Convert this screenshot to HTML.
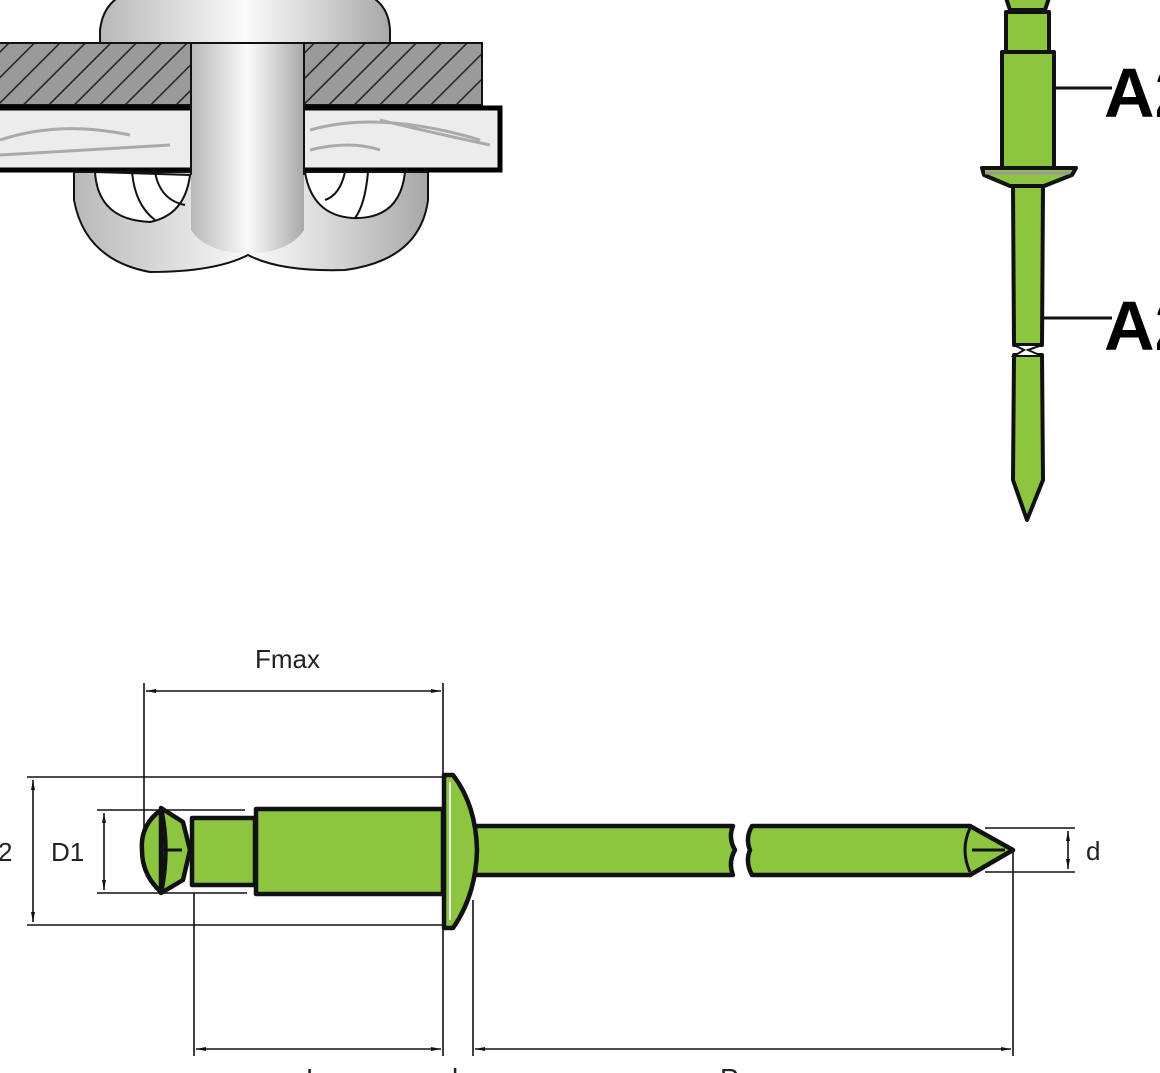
<!DOCTYPE html>
<html><head><meta charset="utf-8"><style>
html,body{margin:0;padding:0;background:#fff;width:1160px;height:1073px;overflow:hidden}
svg{display:block}
.t{font-family:"Liberation Sans",sans-serif;fill:#222}
.a2{font-family:"Liberation Sans Narrow","Liberation Sans",sans-serif;font-weight:bold;fill:#000}
</style></head><body>
<svg width="1160" height="1073" viewBox="0 0 1160 1073" xmlns="http://www.w3.org/2000/svg">
<defs>
<linearGradient id="met" x1="0" x2="1" y1="0" y2="0">
<stop offset="0" stop-color="#b8b8b8"/><stop offset="0.35" stop-color="#e6e6e6"/><stop offset="0.5" stop-color="#fafafa"/><stop offset="0.7" stop-color="#dcdcdc"/><stop offset="1" stop-color="#a8a8a8"/>
</linearGradient>
<pattern id="hatch" width="18" height="18" patternUnits="userSpaceOnUse" patternTransform="rotate(45)">
<rect width="18" height="18" fill="#9a9a9a"/><line x1="0" y1="0" x2="0" y2="18" stroke="#222" stroke-width="3"/>
</pattern>
<marker id="ar" viewBox="0 0 10 6" refX="10" refY="3" markerWidth="10" markerHeight="6" orient="auto-start-reverse" markerUnits="userSpaceOnUse">
<path d="M0,1 L10,3 L0,5 Z" fill="#111"/></marker>
</defs>

<!-- TOP LEFT -->
<path d="M100,44 L100,30 Q104,-5 140,-10 L350,-10 Q388,-5 390,30 L390,44 Z" fill="url(#met)" stroke="#111" stroke-width="2"/>
<rect x="-5" y="43" width="487" height="62" fill="url(#hatch)" stroke="#111" stroke-width="2"/>
<rect x="-5" y="108" width="505" height="62" fill="#ececec" stroke="#000" stroke-width="5"/>
<path d="M0,140 Q60,120 130,135 M0,155 Q80,150 170,145 M310,130 Q380,110 480,140 M310,150 Q350,140 380,150 M380,120 Q420,130 490,145" stroke="#aaa" stroke-width="3" fill="none"/>
<path d="M74,172 L74,200 Q85,260 150,272 Q215,272 248,255 Q280,272 345,270 Q420,260 428,200 L428,172 Z" fill="url(#met)" stroke="#111" stroke-width="2"/>
<path d="M95,172 Q98,220 150,222 Q185,215 190,175 Z" fill="#fff" stroke="#111" stroke-width="2"/>
<path d="M132,172 Q135,205 155,220 M155,172 Q160,200 185,205" stroke="#111" stroke-width="2" fill="none"/>
<path d="M305,172 Q312,215 352,218 Q400,220 405,172 Z" fill="#fff" stroke="#111" stroke-width="2"/>
<path d="M368,172 Q365,205 355,218 M345,172 Q340,195 325,200" stroke="#111" stroke-width="2" fill="none"/>
<path d="M191,44 L304,44 L304,230 Q290,252 248,254 Q205,252 191,230 Z" fill="url(#met)"/>
<line x1="191" y1="44" x2="191" y2="175" stroke="#111" stroke-width="2"/>
<line x1="304" y1="44" x2="304" y2="175" stroke="#111" stroke-width="2"/>

<!-- TOP RIGHT vertical rivet -->
<g stroke="#111" stroke-width="4" fill="#8cc63f" stroke-linejoin="round">
<path d="M1005,-5 L1010,10 L1045,10 L1050,-5 Z"/>
<rect x="1006" y="12" width="43" height="40"/>
<rect x="1002" y="52" width="52" height="116"/>
<path d="M982,168 L1076,168 L1072,175 L1044,186 L1010,186 L984,175 Z"/>
<path d="M1013,186 L1043,186 L1042,345 L1014,345 Z"/>
<path d="M1014,355 L1042,355 L1043,480 L1027,520 L1013,480 Z"/>
</g>
<line x1="985" y1="173" x2="1070" y2="173" stroke="#999" stroke-width="3"/>
<path d="M1014,345 L1042,345 L1028,350 L1042,356 L1014,356 L1024,350 Z" fill="#fff" stroke="#111" stroke-width="2"/>
<line x1="1054" y1="88" x2="1112" y2="88" stroke="#111" stroke-width="3"/>
<line x1="1043" y1="318" x2="1112" y2="318" stroke="#111" stroke-width="3"/>
<text class="a2" x="1104" y="117" font-size="70">A2</text>
<text class="a2" x="1104" y="350" font-size="70">A2</text>

<!-- BOTTOM drawing dimension lines -->
<g stroke="#111" stroke-width="1.6" fill="none">
<line x1="144" y1="683" x2="144" y2="860"/>
<line x1="443" y1="683" x2="443" y2="775"/>
<line x1="146" y1="691" x2="441" y2="691" marker-start="url(#ar)" marker-end="url(#ar)"/>
<line x1="27" y1="777" x2="443" y2="777"/>
<line x1="27" y1="925" x2="443" y2="925"/>
<line x1="33" y1="780" x2="33" y2="922" marker-start="url(#ar)" marker-end="url(#ar)"/>
<line x1="97" y1="810" x2="245" y2="810"/>
<line x1="97" y1="893" x2="247" y2="893"/>
<line x1="104" y1="813" x2="104" y2="890" marker-start="url(#ar)" marker-end="url(#ar)"/>
<line x1="194" y1="893" x2="194" y2="1056"/>
<line x1="443" y1="925" x2="443" y2="1056"/>
<line x1="473" y1="900" x2="473" y2="1056"/>
<line x1="1013" y1="850" x2="1013" y2="1056"/>
<line x1="196" y1="1049" x2="441" y2="1049" marker-start="url(#ar)" marker-end="url(#ar)"/>
<line x1="475" y1="1049" x2="1011" y2="1049" marker-start="url(#ar)" marker-end="url(#ar)"/>
<line x1="985" y1="828" x2="1075" y2="828"/>
<line x1="985" y1="872" x2="1075" y2="872"/>
<line x1="1068" y1="831" x2="1068" y2="869" marker-start="url(#ar)" marker-end="url(#ar)"/>
</g>

<!-- BOTTOM rivet -->
<g stroke="#111" stroke-width="4.5" fill="#8cc63f" stroke-linejoin="round">
<path d="M161,810 Q140,825 142,850 Q142,875 161,892 Z"/>
<path d="M161,808 L183,822 L190,850 L183,880 L161,893 Q170,850 161,808 Z"/>
<rect x="192" y="818" width="63" height="67"/>
<rect x="256" y="809" width="187" height="85"/>
<path d="M475,826 L733,826 Q728,838 735,850 Q728,862 733,875 L475,875 Z"/>
<path d="M752,826 L970,826 L1013,850 L970,875 L752,875 Q745,862 750,850 Q745,838 752,826 Z"/>
<path d="M444,775 L453,775 Q476,805 477,850 Q476,895 453,928 L444,928 Z"/>
</g>
<line x1="450" y1="782" x2="450" y2="920" stroke="#eee" stroke-width="2"/>
<path d="M161,850 L182,850" stroke="#111" stroke-width="3"/>
<path d="M970,828 Q960,850 970,872 M972,850 L1005,850" stroke="#111" stroke-width="3" fill="none"/>

<text class="t" x="255" y="668" font-size="26">Fmax</text>
<text class="t" x="-2" y="861" font-size="26">2</text>
<text class="t" x="51" y="861" font-size="26">D1</text>
<text class="t" x="1086" y="860" font-size="26">d</text>
<text class="t" x="306" y="1088" font-size="28">L</text>
<text class="t" x="452" y="1088" font-size="28">k</text>
<text class="t" x="720" y="1088" font-size="28">P</text>
</svg>
</body></html>
